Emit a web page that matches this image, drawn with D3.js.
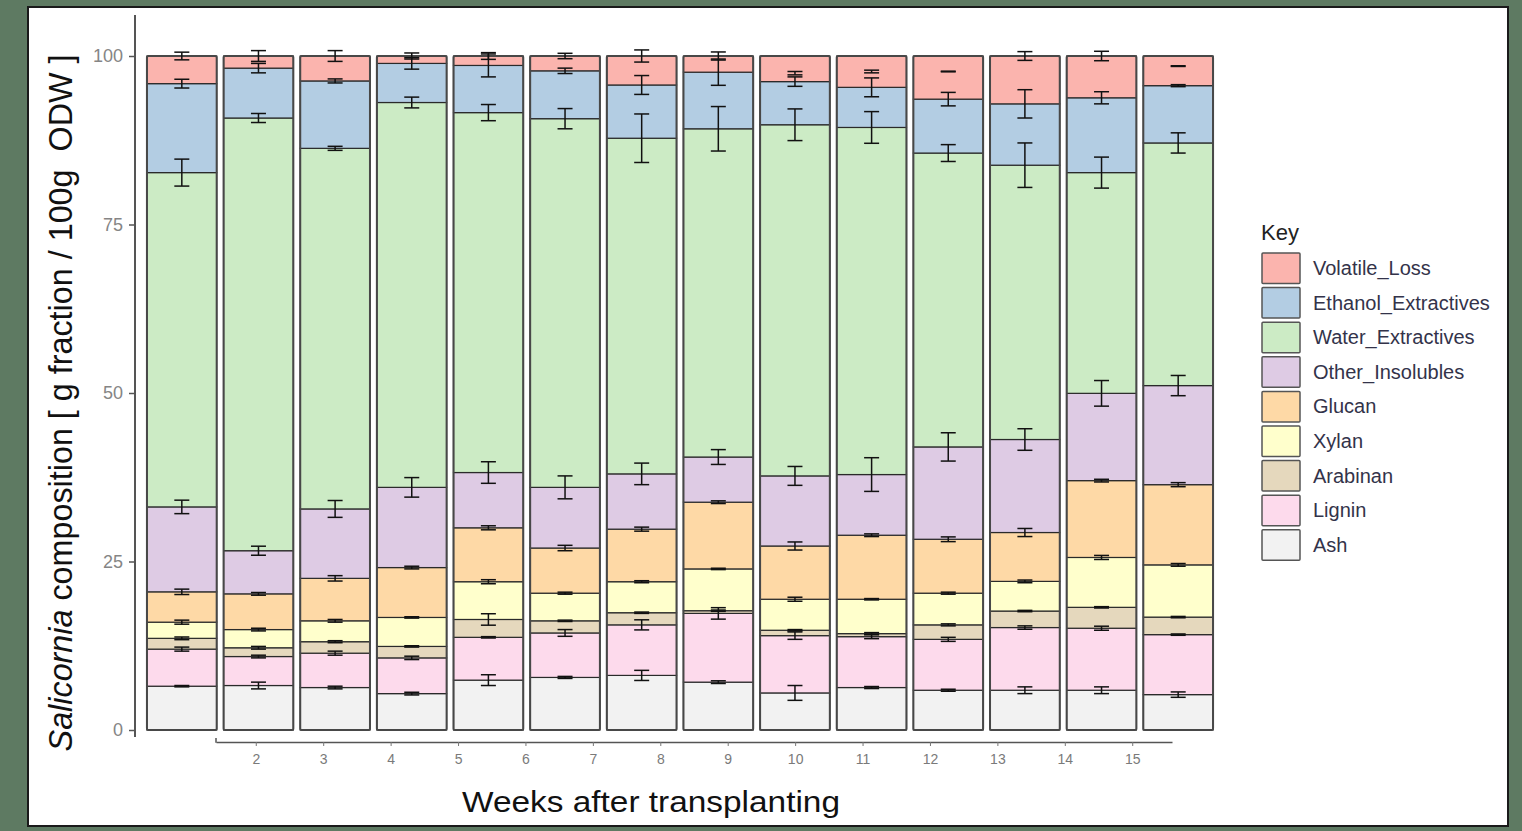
<!DOCTYPE html>
<html>
<head>
<meta charset="utf-8">
<script src="https://cdn.jsdelivr.net/npm/d3@7/dist/d3.min.js"></script>
<style>
  html, body { margin: 0; padding: 0; background: #5e7a62; }
  svg { display: block; }
</style>
</head>
<body>
<svg id="chart" width="1522" height="831"></svg>
<script>
// Weeks after transplanting (one stacked bar per week)
const weeks = [2, 3, 4, 5, 6, 7, 8, 9, 10, 11, 12, 13, 14, 15];

// Components, bottom of the stack first
const components = ["Ash", "Lignin", "Arabinan", "Xylan", "Glucan",
  "Other_Insolubles", "Water_Extractives", "Ethanol_Extractives", "Volatile_Loss"];

// Mean composition, g fraction / 100 g ODW
const Ash                 = [6.5, 6.6, 6.3, 5.4, 7.4, 7.8, 8.1, 7.1, 5.5, 6.3, 5.9, 5.9, 5.9, 5.25];
const Lignin              = [5.5, 4.3, 5.1, 5.3, 6.35, 6.6, 7.5, 10.2, 8.5, 7.55, 7.55, 9.3, 9.2, 8.9];
const Arabinan            = [1.6, 1.3, 1.7, 1.7, 2.65, 1.8, 1.8, 0.4, 0.8, 0.45, 2.15, 2.45, 3.1, 2.6];
const Xylan               = [2.4, 2.7, 3.1, 4.3, 5.6, 4.1, 4.6, 6.2, 4.6, 5.1, 4.7, 4.4, 7.4, 7.75];
const Glucan              = [4.5, 5.3, 6.3, 7.4, 8.0, 6.7, 7.8, 9.9, 7.9, 9.5, 8.0, 7.25, 11.4, 11.9];
const Other_Insolubles    = [12.6, 6.4, 10.3, 11.9, 8.2, 9.0, 8.2, 6.7, 10.4, 9.0, 13.7, 13.8, 12.95, 14.7];
const Water_Extractives   = [49.6, 64.2, 53.5, 57.1, 53.4, 54.7, 49.8, 48.7, 52.1, 51.5, 43.6, 40.7, 32.75, 36.0];
const Ethanol_Extractives = [13.2, 7.4, 10.0, 5.8, 7.0, 7.1, 7.9, 8.4, 6.4, 5.95, 8.0, 9.1, 11.1, 8.5];
const Volatile_Loss       = [4.1, 1.8, 3.7, 1.1, 1.4, 2.2, 4.3, 2.4, 3.8, 4.65, 6.4, 7.1, 6.2, 4.4];

// Standard deviations of each component
const Ash_sd                 = [0.1, 0.5, 0.2, 0.2, 0.8, 0.15, 0.75, 0.2, 1.1, 0.15, 0.15, 0.5, 0.5, 0.4];
const Lignin_sd              = [0.3, 0.2, 0.3, 0.25, 0.1, 0.5, 0.75, 0.85, 0.55, 0.3, 0.3, 0.25, 0.3, 0.1];
const Arabinan_sd            = [0.2, 0.2, 0.15, 0.1, 0.85, 0.1, 0.1, 0.1, 0.1, 0.15, 0.15, 0.1, 0.1, 0.1];
const Xylan_sd               = [0.3, 0.2, 0.2, 0.1, 0.3, 0.15, 0.15, 0.1, 0.3, 0.1, 0.15, 0.2, 0.3, 0.2];
const Glucan_sd              = [0.4, 0.2, 0.4, 0.2, 0.3, 0.4, 0.3, 0.2, 0.6, 0.2, 0.35, 0.6, 0.2, 0.3];
const Other_Insolubles_sd    = [1.0, 0.67, 1.25, 1.45, 1.6, 1.7, 1.6, 1.1, 1.4, 2.5, 2.1, 1.6, 1.9, 1.5];
const Water_Extractives_sd   = [2.0, 0.67, 0.3, 0.8, 1.2, 1.5, 3.6, 3.3, 2.35, 2.35, 1.25, 3.3, 2.3, 1.5];
const Ethanol_Extractives_sd = [0.65, 0.7, 0.3, 0.85, 1.7, 0.4, 1.4, 1.95, 0.7, 1.4, 1.0, 2.1, 0.9, 0.15];
const Volatile_Loss_sd       = [0.57, 0.8, 0.8, 0.45, 0.5, 0.4, 0.9, 0.6, 0.25, 0.2, 0.05, 0.65, 0.7, 0.05];
// Volatile loss error bar centre (sum of the measured means)
const Volatile_Loss_mid      = [100, 100, 100, 100, 100, 100, 100, 100, 97.45, 97.7, 97.7, 100, 100, 98.5];

const yTicks = [0, 25, 50, 75, 100];

const colours = {
  Volatile_Loss: "#fbb4ae", Ethanol_Extractives: "#b3cde3", Water_Extractives: "#ccebc5",
  Other_Insolubles: "#decbe4", Glucan: "#fed9a6", Xylan: "#ffffcc",
  Arabinan: "#e5d8bd", Lignin: "#fddaec", Ash: "#f2f2f2"
};

const means = { Ash, Lignin, Arabinan, Xylan, Glucan, Other_Insolubles,
  Water_Extractives, Ethanol_Extractives, Volatile_Loss };
const sds = { Ash: Ash_sd, Lignin: Lignin_sd, Arabinan: Arabinan_sd, Xylan: Xylan_sd,
  Glucan: Glucan_sd, Other_Insolubles: Other_Insolubles_sd,
  Water_Extractives: Water_Extractives_sd, Ethanol_Extractives: Ethanol_Extractives_sd,
  Volatile_Loss: Volatile_Loss_sd };

const table = weeks.map((w, i) => {
  const row = { week: w };
  components.forEach(c => row[c] = means[c][i]);
  return row;
});

const svg = d3.select("#chart");
const font = "Liberation Sans, Arial, sans-serif";

// White panel with dark frame
svg.append("rect").attr("x", 28).attr("y", 7).attr("width", 1480).attr("height", 819)
  .attr("fill", "#ffffff").attr("stroke", "#1a1a1a").attr("stroke-width", 2);

const x = d3.scaleBand().domain(weeks).range([143.5, 1216.5]).paddingInner(0.09).paddingOuter(0.045);
const y = d3.scaleLinear().domain([0, 100]).range([730, 56]);
const xTick = d3.scalePoint().domain(weeks).range([216, 1172]).padding(0.59);

const series = d3.stack().keys(components)(table);

// Stacked segments
const gBars = svg.append("g");
series.forEach(s => {
  gBars.append("g").selectAll("rect").data(s).join("rect")
    .attr("x", d => x(d.data.week))
    .attr("width", x.bandwidth())
    .attr("y", d => y(d[1]))
    .attr("height", d => y(d[0]) - y(d[1]))
    .attr("fill", colours[s.key])
    .attr("stroke", "#2a2a2a")
    .attr("stroke-width", 1.2);
});
// Outer outline of each bar
gBars.append("g").selectAll("rect").data(table).join("rect")
  .attr("x", d => x(d.week))
  .attr("width", x.bandwidth())
  .attr("y", d => y(d3.sum(components, c => d[c])))
  .attr("height", d => y(0) - y(d3.sum(components, c => d[c])))
  .attr("fill", "none").attr("stroke", "#484848").attr("stroke-width", 2).attr("rx", 1.5);

// Error bars at the top of every segment
const errData = [];
series.forEach(s => {
  s.forEach((d, i) => {
    const mid = s.key === "Volatile_Loss" ? Volatile_Loss_mid[i] : d[1];
    const sd = sds[s.key][i];
    errData.push({ cx: x(d.data.week) + x.bandwidth() / 2, lo: mid - sd, hi: mid + sd });
  });
});
const cap = 7.5;
const gErr = svg.append("g").attr("stroke", "#111").attr("stroke-width", 1.5).attr("fill", "none");
errData.forEach(e => {
  const g = gErr.append("g");
  g.append("line").attr("x1", e.cx).attr("x2", e.cx).attr("y1", y(e.lo)).attr("y2", y(e.hi));
  g.append("line").attr("x1", e.cx - cap).attr("x2", e.cx + cap).attr("y1", y(e.lo)).attr("y2", y(e.lo));
  g.append("line").attr("x1", e.cx - cap).attr("x2", e.cx + cap).attr("y1", y(e.hi)).attr("y2", y(e.hi));
});

// Y axis
const gy = svg.append("g").attr("transform", "translate(135,0)")
  .call(d3.axisLeft(y).tickValues(yTicks).tickSize(6).tickPadding(6).tickFormat(d3.format("d")));
gy.select(".domain").remove();
gy.selectAll(".tick line").attr("stroke", "#555").attr("stroke-width", 1.5);
gy.selectAll(".tick text").attr("fill", "#858585").attr("font-family", font)
  .attr("font-size", 18);
svg.append("line").attr("x1", 135).attr("x2", 135).attr("y1", 15).attr("y2", 737)
  .attr("stroke", "#555").attr("stroke-width", 2);

// X axis
const gx = svg.append("g").attr("transform", "translate(0,742)")
  .call(d3.axisBottom(xTick).tickSize(4).tickSizeOuter(0).tickPadding(8));
gx.select(".domain").attr("stroke", "#555").attr("stroke-width", 1.5);
gx.selectAll(".tick line").attr("stroke", "#777").attr("stroke-width", 1);
gx.selectAll(".tick text").attr("fill", "#7a7a7a").attr("font-family", font)
  .attr("font-size", 14);
svg.append("line").attr("x1", 216).attr("x2", 216).attr("y1", 738).attr("y2", 742.7)
  .attr("stroke", "#555").attr("stroke-width", 1.5);

// Axis titles
svg.append("text").attr("x", 651).attr("y", 812).attr("text-anchor", "middle")
  .attr("font-family", font).attr("font-size", 29)
  .attr("fill", "#111").attr("textLength", 378).attr("lengthAdjust", "spacingAndGlyphs")
  .text("Weeks after transplanting");

const yTitle = svg.append("text").attr("transform", "translate(72,403) rotate(-90)")
  .attr("text-anchor", "middle").attr("font-family", font)
  .attr("font-size", 28).attr("fill", "#111");
yTitle.append("tspan").attr("font-style", "italic").text("Salicornia");
yTitle.append("tspan").text(" composition [ g fraction / 100g \u00a0ODW ]");
const len = yTitle.node().getComputedTextLength();
yTitle.attr("font-size", 28 * 697 / len);

// Legend
const legend = svg.append("g").attr("font-family", font);
legend.append("text").attr("x", 1261).attr("y", 240).attr("font-size", 22).attr("fill", "#222").text("Key");
const legendOrder = components.slice().reverse();
legendOrder.forEach((c, i) => {
  const top = 253 + i * 34.6;
  legend.append("rect").attr("x", 1262).attr("y", top).attr("width", 38).attr("height", 30.5)
    .attr("fill", colours[c]).attr("stroke", "#555").attr("stroke-width", 1.5).attr("rx", 1);
  legend.append("text").attr("x", 1313).attr("y", top + 22).attr("font-size", 20)
    .attr("fill", "#33334a").text(c);
});
</script>
</body>
</html>
